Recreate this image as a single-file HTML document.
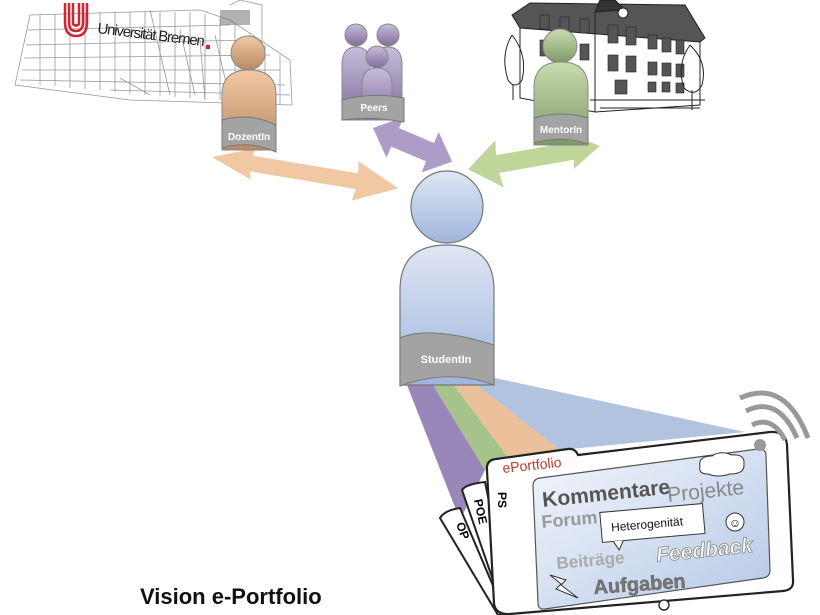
<!DOCTYPE html>
<html><head><meta charset="utf-8"><style>
html,body{margin:0;padding:0;background:#fff;width:820px;height:615px;overflow:hidden}
svg{display:block}
text{font-family:"Liberation Sans",sans-serif}
</style></head><body>
<svg width="820" height="615" viewBox="0 0 820 615" xmlns="http://www.w3.org/2000/svg">
<defs>
<linearGradient id="gb" x1="0" y1="0" x2="0" y2="1"><stop offset="0" stop-color="#dfe6f4"/><stop offset="1" stop-color="#9fb5dd"/></linearGradient>
<linearGradient id="go" x1="0" y1="0" x2="0" y2="1"><stop offset="0" stop-color="#f1c9a4"/><stop offset="1" stop-color="#b88a62"/></linearGradient>
<linearGradient id="gp" x1="0" y1="0" x2="0" y2="1"><stop offset="0" stop-color="#c7bcdb"/><stop offset="1" stop-color="#7e6e9a"/></linearGradient>
<linearGradient id="gg" x1="0" y1="0" x2="0" y2="1"><stop offset="0" stop-color="#c9dcae"/><stop offset="1" stop-color="#7f9866"/></linearGradient>
<linearGradient id="gs" x1="0" y1="0" x2="1" y2="1"><stop offset="0" stop-color="#f4f7fc"/><stop offset="1" stop-color="#b5c8e6"/></linearGradient>
</defs>
<!-- Uni building sketch -->
<g stroke="#999" stroke-width="0.8" fill="none">
<path d="M30 15 L200 10 L230 20 L290 60 L292 105 L130 100 L15 85 Z"/>
<path d="M28 30 L230 25 M26 45 L250 40 M24 58 L270 55 M22 70 L280 70 M20 80 L285 85 M110 90 L290 95"/>
<path d="M40 15 V85 M55 14 V86 M70 13 V88 M85 13 V89 M100 12 V90 M115 12 V92 M130 12 V94 M145 12 V95 M160 12 V96 M175 12 V97 M190 12 V98 M205 14 V100 M220 18 V100 M235 25 V100 M250 35 V102 M265 45 V103 M280 55 V104"/>
<path d="M150 10 L170 95 M180 30 L195 95 M200 40 L205 100 M215 35 L230 100 M120 78 L150 95 M230 5 L240 0 L262 5 L262 50"/>
</g>
<rect x="220" y="10" width="30" height="15" fill="#666" opacity="0.5"/>
<g fill="none" stroke="#d2232f" stroke-width="2.5">
<path d="M65 3 V22 Q65 36 76 36 Q87 36 87 22 V3"/>
<path d="M69 3 V22 Q69 31 76 31 Q83 31 83 22 V3"/>
<path d="M73 3 V24 Q76 27 79 24 V3"/>
</g>
<text x="97" y="33" font-size="15" fill="#222" transform="rotate(7 97 33)" textLength="108">Universität Bremen</text>
<rect x="206" y="45" width="4" height="4" fill="#d2232f"/>
<!-- school building -->
<g stroke="#222" stroke-width="1" fill="none">
<path d="M512 15 L530 3 L685 5 L705 38 L700 42 L520 28 Z" fill="#555"/>
<path d="M600 0 L615 0 L625 10 L595 12 Z" fill="#333"/>
<path d="M520 28 V98 L595 112 L700 105 V42"/>
<path d="M595 12 V112"/>
<path d="M590 100 H705 M600 108 H700"/>
<g fill="#555" stroke="#222" stroke-width="0.6">
<rect x="540" y="15" width="9" height="14"/><rect x="560" y="17" width="9" height="14"/><rect x="580" y="19" width="9" height="14"/>
<rect x="540" y="40" width="9" height="16"/><rect x="560" y="42" width="9" height="16"/><rect x="580" y="44" width="9" height="16"/>
<rect x="608" y="25" width="10" height="18"/><rect x="626" y="27" width="10" height="18"/><rect x="648" y="35" width="9" height="14"/><rect x="662" y="38" width="9" height="14"/><rect x="676" y="40" width="8" height="14"/>
<rect x="608" y="55" width="10" height="16"/><rect x="626" y="56" width="10" height="16"/><rect x="648" y="62" width="9" height="13"/><rect x="662" y="63" width="9" height="13"/><rect x="676" y="64" width="8" height="13"/>
<rect x="615" y="80" width="12" height="14"/><rect x="648" y="82" width="8" height="10"/><rect x="662" y="82" width="8" height="10"/><rect x="676" y="83" width="8" height="10"/>
</g>
<circle cx="623" cy="13" r="5" fill="#fff"/>
<path d="M512 35 Q500 55 508 80 Q515 90 522 80 Q528 55 512 35 M513 85 V100"/>
<path d="M690 45 Q676 65 684 88 Q695 98 702 85 Q708 62 690 45 M692 90 V110"/>
</g>
<!-- beams -->
<polygon points="405,380 430,380 485,470 460,520" fill="#8f7ab2" opacity="0.9"/>
<polygon points="430,380 450,380 510,460 485,470" fill="#9cbd7f" opacity="0.9"/>
<polygon points="450,380 470,380 560,450 510,460" fill="#e9b98f" opacity="0.9"/>
<polygon points="470,380 495,378 745,432 560,450" fill="#a8bcdc" opacity="0.9"/>
<!-- arrows -->
<polygon transform="translate(212,157) rotate(9.5)" points="0,0 42,-16 40,-8 147,-8 145,-20 189,0 145,20 147,8 40,8 42,16" fill="#efc29a" opacity="0.9"/>
<polygon transform="translate(373,128) rotate(23)" points="0,0 24,-22 24,-10 62,-10 62,-22 86,0 62,22 62,10 24,10 24,22" fill="#a591c2" opacity="0.9"/>
<polygon transform="translate(600,146) rotate(170)" points="0,0 30,-18 28,-9 104,-9 102,-24 134,0 102,24 104,9 28,9 30,18" fill="#b8d08f" opacity="0.9"/>
<!-- DozentIn -->
<circle cx="248" cy="53" r="17" fill="url(#go)" stroke="#888"/>
<path d="M222 150 V95 Q222 70 249 70 Q276 70 276 95 V150 Z" fill="url(#go)" stroke="#888"/>
<path d="M222 120 Q249 112 276 125 V152 Q249 140 222 148 Z" fill="#a3a3a3" stroke="#777"/>
<text x="249" y="140" font-size="10" font-weight="bold" fill="#fff" text-anchor="middle">DozentIn</text>
<!-- Peers -->
<g fill="url(#gp)" stroke="#888">
<circle cx="356" cy="35" r="11"/><path d="M342 120 V65 Q342 47 356 47 Q370 47 370 65 V120 Z"/>
<circle cx="388" cy="35" r="11"/><path d="M374 120 V65 Q374 47 388 47 Q402 47 402 65 V120 Z"/>
<circle cx="377" cy="57" r="11"/><path d="M362 120 V85 Q362 68 377 68 Q392 68 392 85 V120 Z"/>
</g>
<path d="M342 100 Q372 92 404 98 V122 Q372 116 342 120 Z" fill="#a3a3a3" stroke="#777"/>
<text x="374" y="111" font-size="10" font-weight="bold" fill="#fff" text-anchor="middle">Peers</text>
<!-- MentorIn -->
<circle cx="560" cy="46" r="17" fill="url(#gg)" stroke="#888"/>
<path d="M534 145 V88 Q534 62 561 62 Q588 62 588 88 V145 Z" fill="url(#gg)" stroke="#888"/>
<path d="M534 118 Q561 110 588 118 V144 Q561 135 534 143 Z" fill="#a3a3a3" stroke="#777"/>
<text x="561" y="133" font-size="10" font-weight="bold" fill="#fff" text-anchor="middle">MentorIn</text>
<!-- Student -->
<circle cx="447" cy="207" r="36" fill="url(#gb)" stroke="#777" stroke-width="1.2"/>
<path d="M400 385 V290 Q400 245 447 245 Q494 245 494 290 V385 Z" fill="url(#gb)" stroke="#777" stroke-width="1.2"/>
<path d="M400 338 Q430 325 494 345 V385 Q450 368 400 386 Z" fill="#a3a3a3" stroke="#777"/>
<text x="446" y="363" font-size="11" font-weight="bold" fill="#fff" text-anchor="middle">StudentIn</text>
<!-- cards -->
<g stroke="#222" stroke-width="2" fill="#fff">
<path d="M440 518 Q445 510 460 508 L505 614 L498 615 Z"/>
<path d="M462 490 Q466 484 485 482 L512 614 L505 615 Z"/>
</g>
<text x="456" y="524" font-size="12" font-weight="bold" transform="rotate(70 456 524)">OP</text>
<text x="474" y="500" font-size="12" font-weight="bold" transform="rotate(78 474 500)">POE</text>
<!-- tablet -->
<path d="M487 470 Q486 460 496 459 L568 449 Q575 448 578 455 L770 432 Q786 431 787 445 L793 580 Q794 590 783 591 L510 614 Q496 615 494 604 Z" fill="#fff" stroke="#222" stroke-width="2.2"/>
<text x="498" y="492" font-size="12" font-weight="bold" transform="rotate(90 498 492)">PS</text>
<text x="503" y="473" font-size="14" fill="#c0392b" transform="rotate(-6 503 473)">ePortfolio</text>
<path d="M540 478 L758 449 Q766 448 766 456 L770 570 Q770 577 763 578 L545 609 Q538 610 538 603 L533 486 Q533 479 540 478 Z" fill="url(#gs)" stroke="#555" stroke-width="1.2"/>
<text x="543" y="507" font-size="21" font-weight="bold" fill="#555" transform="rotate(-6 543 507)">Kommentare</text>
<text x="668" y="502" font-size="21" fill="#888" font-family="Liberation Serif" transform="rotate(-6 668 502)">Projekte</text>
<text x="542" y="528" font-size="18" font-weight="bold" fill="#999" transform="rotate(-5 542 528)">Forum</text>
<text x="557" y="569" font-size="17" font-weight="bold" fill="#aaa" transform="rotate(-5 557 569)">Beiträge</text>
<text x="657" y="562" font-size="21" font-style="italic" font-weight="bold" fill="#fff" stroke="#888" stroke-width="0.8" font-family="Liberation Serif" transform="rotate(-6 657 562)">Feedback</text>
<text x="594" y="594" font-size="20" font-weight="bold" fill="#777" stroke="#555" stroke-width="0.4" font-family="Liberation Serif" transform="rotate(-4 594 594)">Aufgaben</text>
<g transform="rotate(-5 652 524)">
<rect x="601" y="508" width="103" height="30" fill="#fff" stroke="#333"/>
<path d="M612 538 L617 547 L622 538" fill="#fff" stroke="#333"/>
<text x="611" y="528" font-size="12" fill="#111">Heterogenität</text>
</g>
<path d="M700 466 Q698 456 712 456 Q720 450 732 455 Q745 454 744 464 Q745 474 730 474 Q718 478 708 474 Q698 474 700 466 Z" fill="#fff" stroke="#333"/>
<circle cx="735" cy="522" r="9" fill="#fff" stroke="#333"/>
<text x="735" y="527" font-size="12" text-anchor="middle">☺</text>
<path d="M550 575 L566 580 L561 585 L578 598 L556 589 L561 584 Z" fill="#fff" stroke="#333"/>
<circle cx="664" cy="605" r="5" fill="#fff" stroke="#333" stroke-width="1.5"/>
<!-- wifi -->
<circle cx="760" cy="445" r="6" fill="#999"/>
<g fill="none" stroke="#999" stroke-width="5">
<path d="M752 425 Q772 415 785 440"/>
<path d="M746 411 Q778 395 797 438"/>
<path d="M740 398 Q785 378 808 438"/>
</g>
<text x="140" y="604" font-size="22" font-weight="bold" fill="#111">Vision e-Portfolio</text>
</svg>
</body></html>
